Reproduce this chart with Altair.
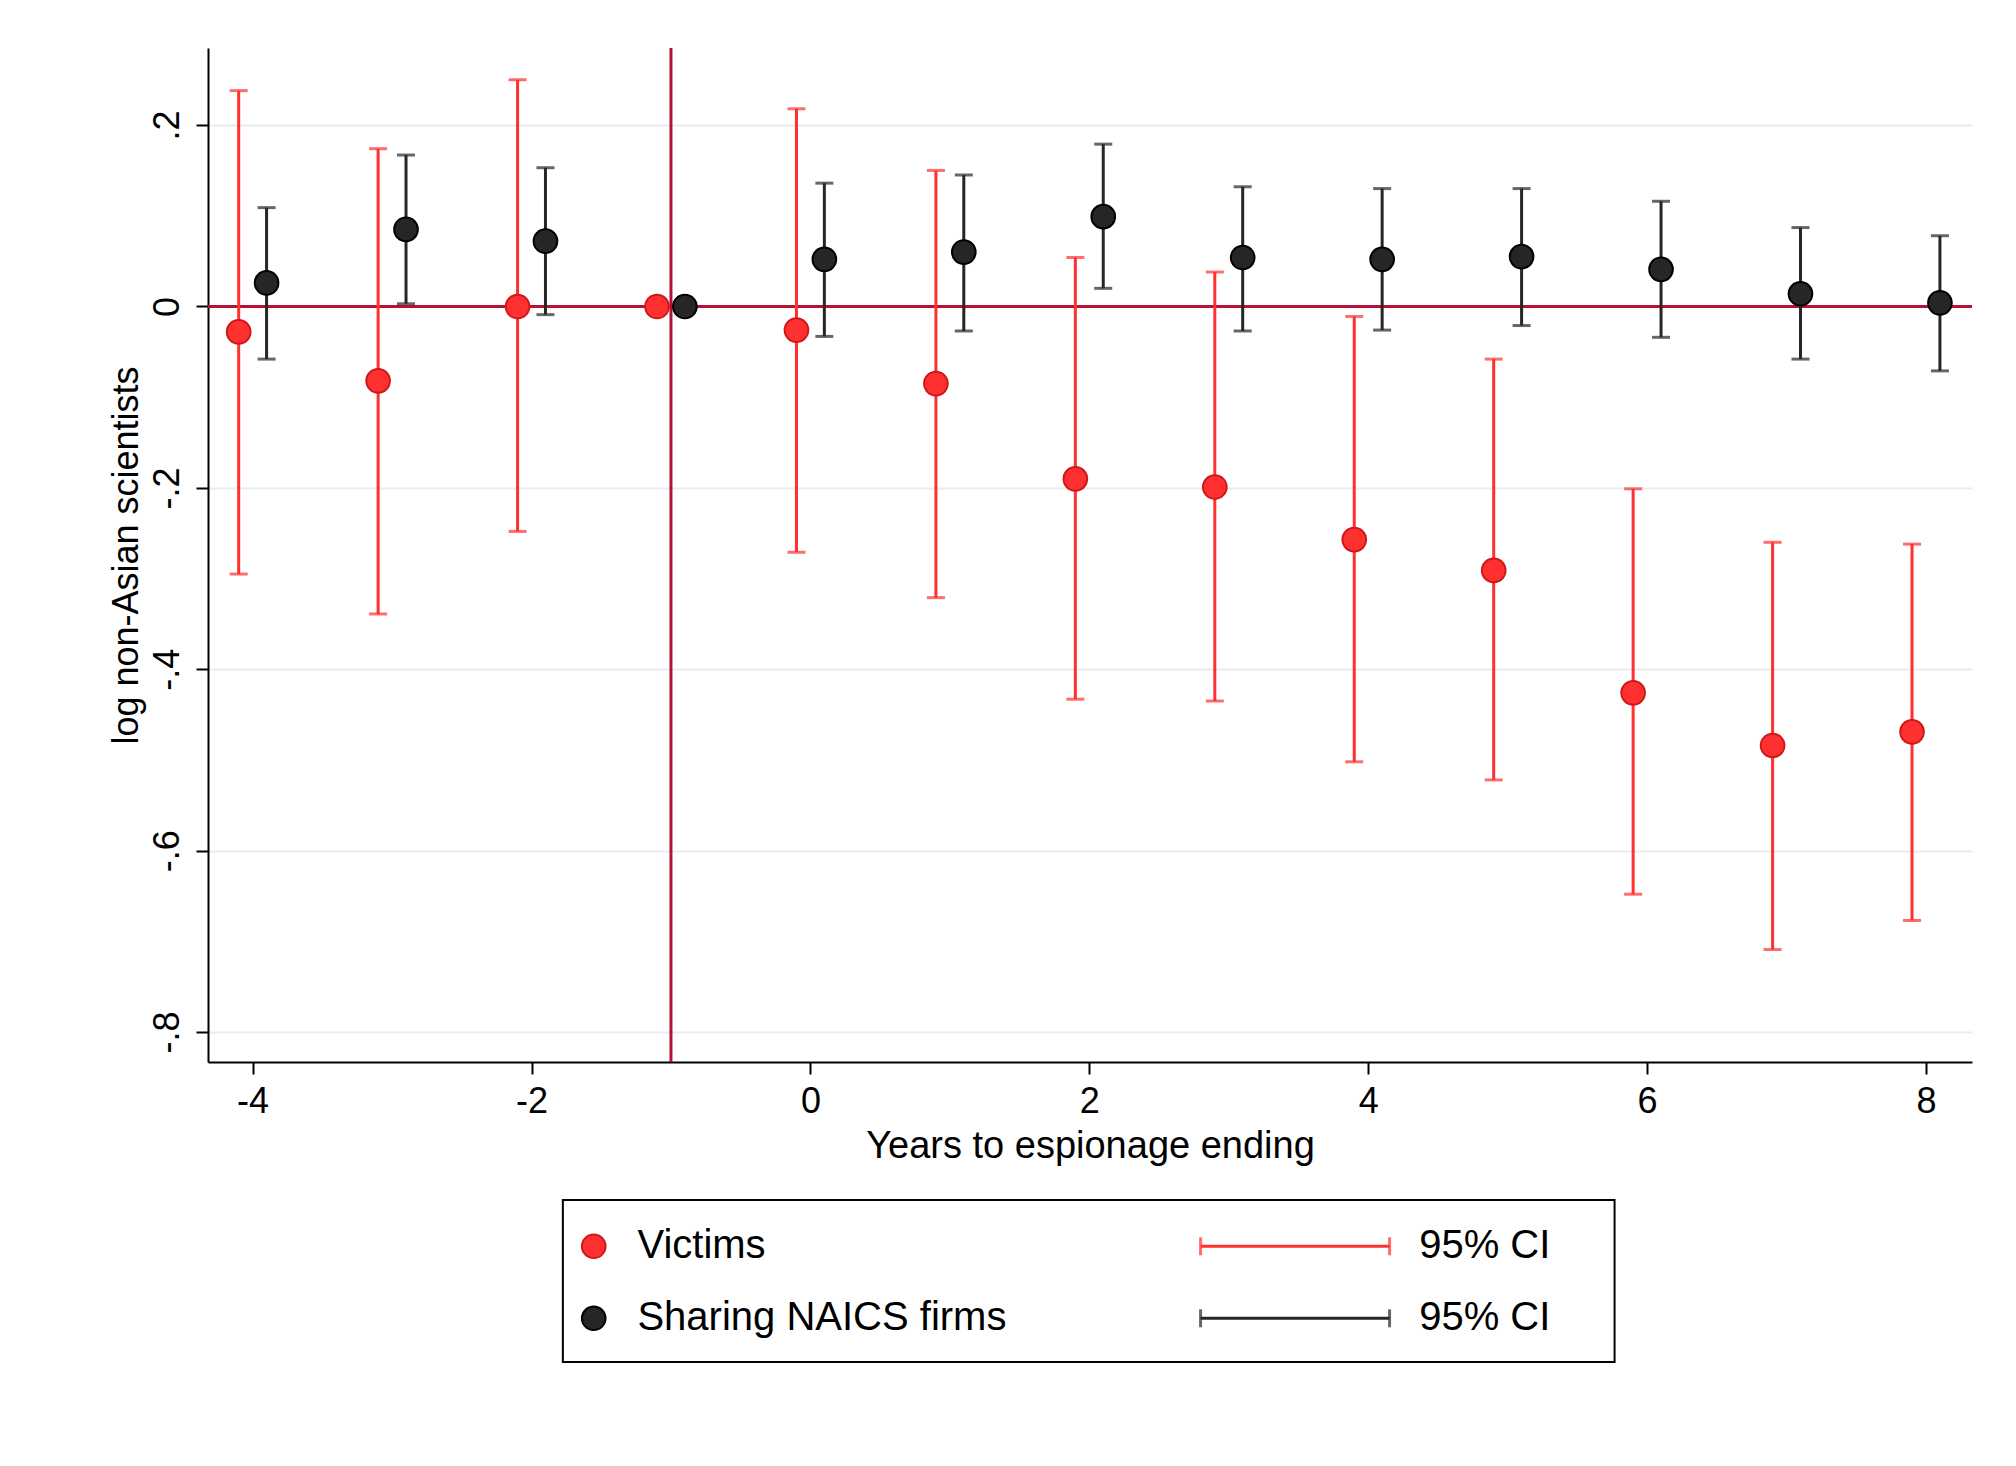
import pandas as pd
import altair as alt

years = [-4, -3, -2, -1, 0, 1, 2, 3, 4, 5, 6, 7, 8]

victims = [-0.028, -0.082, 0.0, 0.0, -0.026, -0.085, -0.19, -0.199, -0.257, -0.291, -0.426, -0.484, -0.469]
victims_hi = [0.238, 0.174, 0.25, None, 0.218, 0.150, 0.054, 0.038, -0.011, -0.058, -0.201, -0.260, -0.262]
victims_lo = [-0.295, -0.339, -0.248, None, -0.271, -0.321, -0.433, -0.435, -0.502, -0.522, -0.648, -0.709, -0.677]

sharing = [0.026, 0.085, 0.072, 0.0, 0.052, 0.060, 0.099, 0.054, 0.052, 0.055, 0.041, 0.014, 0.004]
sharing_hi = [0.109, 0.167, 0.153, None, 0.136, 0.145, 0.179, 0.132, 0.130, 0.130, 0.116, 0.087, 0.078]
sharing_lo = [-0.058, 0.003, -0.009, None, -0.033, -0.027, 0.020, -0.027, -0.026, -0.021, -0.034, -0.058, -0.071]

RED = "#ff3030"
RED_EDGE = "#d01818"
DARK = "#262626"
LINE = "#b5123a"
FONT = "Liberation Sans"

df = pd.concat([
    pd.DataFrame({"x": [y - 0.1 for y in years], "v": victims, "hi": victims_hi, "lo": victims_lo, "g": "Victims"}),
    pd.DataFrame({"x": [y + 0.1 for y in years], "v": sharing, "hi": sharing_hi, "lo": sharing_lo, "g": "Sharing"}),
])
ci = df.dropna()

xs = alt.Scale(domain=[-4.32, 8.33], nice=False, zero=False)
ys = alt.Scale(domain=[-0.833, 0.285], nice=False, zero=False)
col = alt.Scale(domain=["Victims", "Sharing"], range=[RED, DARK])
edge = alt.Scale(domain=["Victims", "Sharing"], range=[RED_EDGE, "#000000"])

X = alt.X("x:Q", scale=xs, title="Years to espionage ending",
          axis=alt.Axis(values=[-4, -2, 0, 2, 4, 6, 8], grid=False, labelFontSize=36,
                        labelExpr="replace(format(datum.value, 'd'), '−', '-')",
                        titleFontSize=38, labelPadding=10, tickSize=12, titlePadding=8,
                        domainColor="black", tickColor="black", labelColor="black",
                        titleColor="black", titleFontWeight="normal", domainWidth=2, tickWidth=2))
Y = alt.Y("v:Q", scale=ys, title="log non-Asian scientists",
          axis=alt.Axis(values=[-0.8, -0.6, -0.4, -0.2, 0, 0.2], labelFontSize=36, titleFontSize=36,
                        labelAngle=270, labelAlign="center", labelBaseline="bottom", labelPadding=10,
                        labelExpr="datum.value == 0 ? '0' : replace(replace(format(datum.value, '.1f'), '−', '-'), '0.', '.')",
                        gridColor="#e6edf0", gridWidth=2, tickSize=12,
                        domainColor="black", tickColor="black", labelColor="black",
                        titleColor="black", titleFontWeight="normal", domainWidth=2, tickWidth=2))

base = alt.Chart(df)
hline = alt.Chart(pd.DataFrame({"v": [0]})).mark_rule(color=LINE, strokeWidth=3).encode(y=alt.Y("v:Q", scale=ys))
vline = alt.Chart(pd.DataFrame({"x": [-1]})).mark_rule(color=LINE, strokeWidth=3).encode(x=alt.X("x:Q", scale=xs))

bars = alt.Chart(ci).mark_rule(strokeWidth=3).encode(
    x=alt.X("x:Q", scale=xs), y=alt.Y("lo:Q", scale=ys), y2="hi:Q",
    color=alt.Color("g:N", scale=col, legend=None))
cap_hi = alt.Chart(ci).mark_tick(orient="horizontal", size=18, thickness=3).encode(
    x=alt.X("x:Q", scale=xs), y=alt.Y("hi:Q", scale=ys),
    color=alt.Color("g:N", scale=col, legend=None))
cap_lo = alt.Chart(ci).mark_tick(orient="horizontal", size=18, thickness=3).encode(
    x=alt.X("x:Q", scale=xs), y=alt.Y("lo:Q", scale=ys),
    color=alt.Color("g:N", scale=col, legend=None))
pts = base.mark_point(filled=True, size=560, opacity=1, strokeWidth=2).encode(
    x=X, y=Y,
    fill=alt.Fill("g:N", scale=col, legend=None),
    stroke=alt.Stroke("g:N", scale=edge, legend=None))

main = alt.layer(hline, vline, bars, cap_hi, cap_lo, pts).properties(width=1764, height=1014)

# legend panel (legend-box units)
leg_items = ["Victims", "Sharing NAICS firms"]
leg_groups = ["Victims", "Sharing"]
leg_rows = [36, 92]
leg = pd.DataFrame({"lab": leg_items, "g": leg_groups, "row": leg_rows})
lx = alt.Scale(domain=[0, 1372], nice=False)
ly = alt.Scale(domain=[0, 126], reverse=True, nice=False)
box = alt.Chart(pd.DataFrame({"a": [276], "b": [1094], "t": [0], "u": [126]})).mark_rect(
    fill="white", stroke="black", strokeWidth=2).encode(
    x=alt.X("a:Q", scale=lx, axis=None), x2="b:Q", y=alt.Y("t:Q", scale=ly, axis=None), y2="u:Q")
ldot = alt.Chart(leg).mark_point(filled=True, size=560, opacity=1, strokeWidth=2).encode(
    x=alt.datum(300, scale=lx), y=alt.Y("row:Q", scale=ly, axis=None),
    fill=alt.Fill("g:N", scale=col, legend=None), stroke=alt.Stroke("g:N", scale=edge, legend=None))
ltext = alt.Chart(leg).mark_text(align="left", fontSize=40, font=FONT, color="black").encode(
    x=alt.datum(334, scale=lx), y=alt.Y("row:Q", scale=ly, axis=None), text="lab:N")
lline = alt.Chart(leg).mark_rule(strokeWidth=3).encode(
    x=alt.datum(772, scale=lx), x2=alt.datum(919), y=alt.Y("row:Q", scale=ly, axis=None),
    color=alt.Color("g:N", scale=col, legend=None))
lcapl = alt.Chart(leg).mark_tick(orient="vertical", size=18, thickness=3).encode(
    x=alt.datum(772, scale=lx), y=alt.Y("row:Q", scale=ly, axis=None),
    color=alt.Color("g:N", scale=col, legend=None))
lcapr = alt.Chart(leg).mark_tick(orient="vertical", size=18, thickness=3).encode(
    x=alt.datum(919, scale=lx), y=alt.Y("row:Q", scale=ly, axis=None),
    color=alt.Color("g:N", scale=col, legend=None))
ltext2 = alt.Chart(leg).mark_text(align="left", fontSize=40, font=FONT, color="black").encode(
    x=alt.datum(942, scale=lx), y=alt.Y("row:Q", scale=ly, axis=None), text=alt.value("95% CI"))
legend_panel = alt.layer(box, ldot, ltext, lline, lcapl, lcapr, ltext2).properties(width=1764, height=162)

chart = alt.vconcat(main, legend_panel, spacing=34).resolve_scale(
    x="independent", y="independent", color="independent", fill="independent", stroke="independent"
).configure(font=FONT, background="white", padding={"left": 100, "top": 38, "right": 20, "bottom": 10}
).configure_view(stroke=None)

chart.save("out.html", embed_options={"renderer": "svg", "actions": False})
